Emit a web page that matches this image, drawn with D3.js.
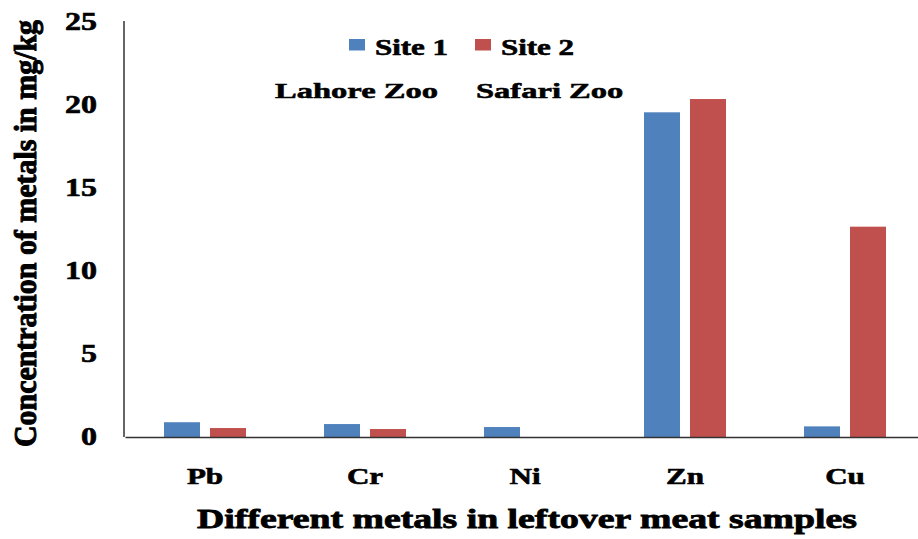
<!DOCTYPE html>
<html>
<head>
<meta charset="utf-8">
<script src="https://cdn.jsdelivr.net/npm/d3@7/dist/d3.min.js"></script>
<style>
  html, body { margin: 0; padding: 0; background: #fff; }
  svg { display: block; }
  text { font-family: "Liberation Serif", "Times New Roman", serif; font-weight: bold; fill: #000; stroke: #000; stroke-width: 0.8px; }
</style>
</head>
<body>
<svg id="chart" width="918" height="539"></svg>
<script>
// Metal concentrations (mg/kg) in leftover meat samples
const metals = ["Pb", "Cr", "Ni", "Zn", "Cu"];
const seriesNames = ["Site 1", "Site 2"];
const site1 = [0.89, 0.78, 0.60, 19.56, 0.64];
const site2 = [0.54, 0.48, 0.00, 20.36, 12.67];
const yTicks = [0, 5, 10, 15, 20, 25];
const siteNotes = ["Lahore Zoo", "Safari Zoo"];

const colors = ["#4F81BD", "#C0504D"];

const svg = d3.select("#chart");
const margin = { left: 125, right: -7, top: 22, bottom: 102 };
const W = 918, H = 539;
const plotBottom = H - margin.bottom;

const x0 = d3.scaleBand().domain(metals)
  .range([margin.left, W - margin.right])
  .paddingInner(0.4875).paddingOuter(0.24375);
const x1 = d3.scaleBand().domain(seriesNames)
  .range([0, x0.bandwidth()]).paddingInner(0.217);
const y = d3.scaleLinear().domain([0, 25]).range([plotBottom, margin.top]);

// place a piece of text, widened horizontally by sx around its anchor
function label(g, str, x, yy, size, sx, anchor) {
  return g.append("text")
    .attr("transform", `translate(${x},${yy}) scale(${sx},1)`)
    .attr("text-anchor", anchor || "start")
    .style("font-size", size + "px")
    .style("stroke-width", (0.8 / sx) + "px")
    .text(str);
}

// bars
const rows = metals.map((m, i) => ({ metal: m, values: [site1[i], site2[i]] }));
const groups = svg.append("g").selectAll("g").data(rows).join("g")
  .attr("transform", d => `translate(${x0(d.metal)},0)`);
groups.selectAll("rect")
  .data(d => d.values.map((v, k) => ({ key: seriesNames[k], v, k })))
  .join("rect")
  .attr("x", d => x1(d.key))
  .attr("width", x1.bandwidth())
  .attr("y", d => y(d.v))
  .attr("height", d => plotBottom - y(d.v))
  .attr("fill", d => colors[d.k]);

// axis lines
const yAxis = d3.axisLeft(y).tickValues(yTicks).tickSize(0).tickFormat("");
const gy = svg.append("g").attr("transform", `translate(${margin.left - 1},0)`).call(yAxis);
gy.select(".domain").attr("stroke", "#333").attr("stroke-width", 1.5).attr("d", `M0,${y(25) - 1}V${plotBottom}`);
const xAxis = d3.axisBottom(x0).tickSize(0).tickFormat("");
const gx = svg.append("g").attr("transform", `translate(0,${plotBottom})`).call(xAxis);
gx.select(".domain").attr("stroke", "#333").attr("stroke-width", 1.5);

// y tick labels
const tl = svg.append("g");
yTicks.forEach(t => label(tl, String(t), 97, y(t) + 8.3, 25, 1.28, "end"));

// category labels
const cl = svg.append("g");
metals.forEach(m => label(cl, m, x0(m) + x0.bandwidth() / 2, 484, 22.5, 1.38, "middle"));

// legend
const lg = svg.append("g");
const legendX = [349, 475];
seriesNames.forEach((s, k) => {
  lg.append("rect").attr("x", legendX[k]).attr("y", 39).attr("width", 16).attr("height", 11.5).attr("fill", colors[k]);
  label(lg, s, legendX[k] + 26, 54.5, 24, 1.29, "start");
});

// site notes
const nt = svg.append("g");
const noteX = [275, 476];
siteNotes.forEach((s, k) => label(nt, s, noteX[k], 97.5, 22, 1.48, "start"));

// axis titles
svg.append("text")
  .attr("x", 527).attr("y", 528)
  .attr("text-anchor", "middle")
  .attr("textLength", 660)
  .attr("lengthAdjust", "spacingAndGlyphs")
  .style("font-size", "27.5px")
  .text("Different metals in leftover meat samples");
svg.append("text")
  .attr("transform", `translate(36,233.5) rotate(-90) scale(1,1.12)`)
  .attr("text-anchor", "middle")
  .attr("textLength", 427)
  .attr("lengthAdjust", "spacingAndGlyphs")
  .style("font-size", "29px")
  .style("stroke-width", "0.9px")
  .text("Concentration of metals in mg/kg");
</script>
</body>
</html>
